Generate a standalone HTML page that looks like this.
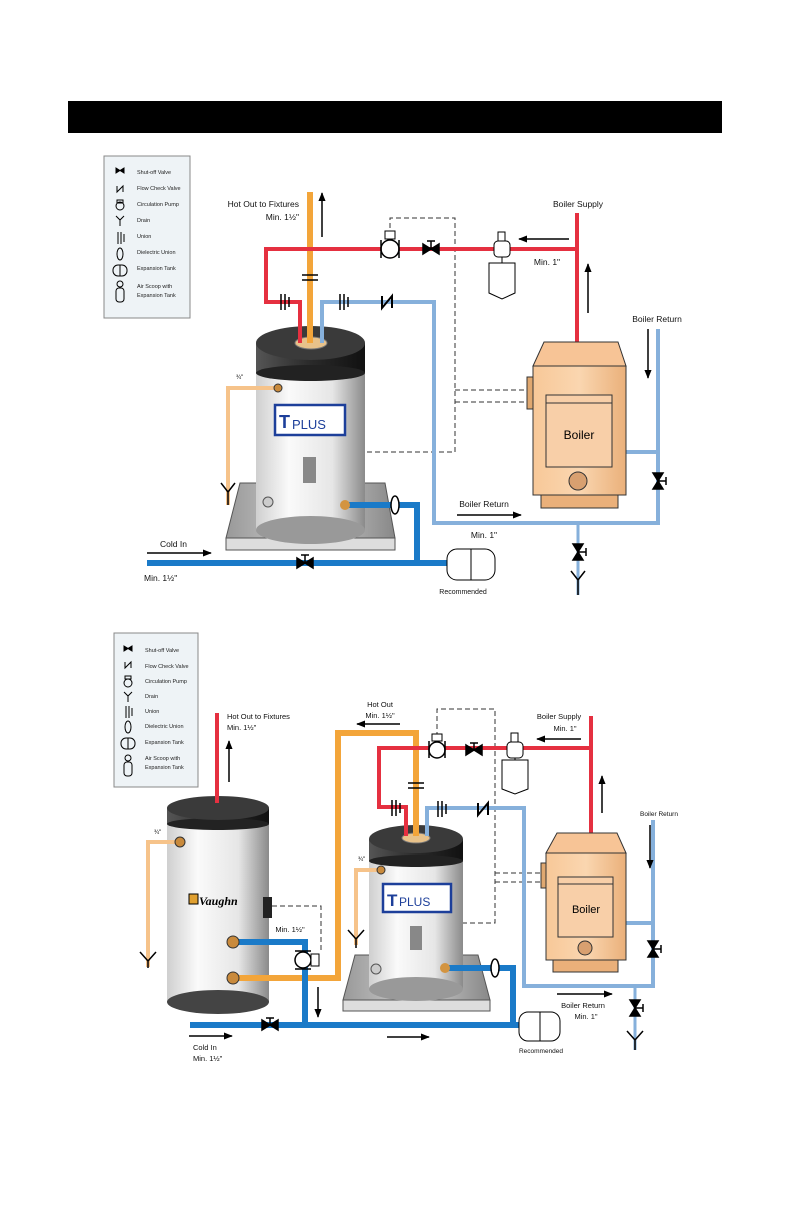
<!DOCTYPE html>
<html><head><meta charset="utf-8"><style>
html,body{margin:0;padding:0;background:#fff;}
svg{display:block;font-family:"Liberation Sans",sans-serif;}
</style></head><body>
<svg width="792" height="1224" viewBox="0 0 792 1224" xmlns="http://www.w3.org/2000/svg">
<defs>
<linearGradient id="tk" x1="0" x2="1"><stop offset="0" stop-color="#cfcfcf"/><stop offset="0.3" stop-color="#fafafa"/><stop offset="0.7" stop-color="#e6e6e6"/><stop offset="1" stop-color="#8a8a8a"/></linearGradient>
<linearGradient id="tp" x1="0" x2="1"><stop offset="0" stop-color="#555"/><stop offset="0.5" stop-color="#2a2a2a"/><stop offset="1" stop-color="#111"/></linearGradient>
<linearGradient id="bl" x1="0" x2="1"><stop offset="0" stop-color="#f8c898"/><stop offset="0.5" stop-color="#fad6b0"/><stop offset="1" stop-color="#eab07a"/></linearGradient>
<linearGradient id="tr" x1="0" x2="1"><stop offset="0" stop-color="#999"/><stop offset="0.5" stop-color="#d0d0d0"/><stop offset="1" stop-color="#888"/></linearGradient>
<marker id="ah" viewBox="0 0 10 10" refX="9" refY="5" markerWidth="6" markerHeight="6" orient="auto"><path d="M0,1 L10,5 L0,9 z" fill="#000"/></marker>
</defs>
<rect x="68" y="101" width="654" height="32" fill="#000"/>

<!-- ============ TOP DIAGRAM ============ -->
<rect x="104" y="156" width="86" height="162" fill="#eef3f6" stroke="#888"/>
<g font-size="5.5" fill="#222">
<text x="137" y="174">Shut-off Valve</text><text x="137" y="190">Flow Check Valve</text>
<text x="137" y="206">Circulation Pump</text><text x="137" y="222">Drain</text>
<text x="137" y="238">Union</text><text x="137" y="254">Dielectric Union</text>
<text x="137" y="270">Expansion Tank</text><text x="137" y="288">Air Scoop with</text><text x="137" y="297">Expansion Tank</text>
</g>
<g stroke="#000" fill="none" stroke-width="1">
<path d="M116,168 l8,5 l0,-5 l-8,5 z" fill="#000"/>
<path d="M117,186 l0,6 l6,-6 l0,6"/>
<circle cx="120" cy="206" r="4"/><rect x="117" y="200" width="6" height="3"/>
<path d="M116,216 l4,4 l4,-4 M120,220 v6"/>
<path d="M118,232 v12 M121,232 v12 M124,234 v8"/>
<ellipse cx="120" cy="254" rx="3" ry="6"/>
<rect x="113" y="265" width="14" height="11" rx="5"/><path d="M120,265 v11"/>
<rect x="116" y="288" width="8" height="14" rx="3"/><circle cx="120" cy="284" r="3"/>
</g>

<g stroke="#333" stroke-width="1" stroke-dasharray="5,3" fill="none">
<path d="M390,228 V218 H455 V452 H311"/>
<path d="M455,390 H527"/><path d="M455,402 H527"/>
</g>

<path d="M240,483 H385 L395,538 H226 Z" fill="url(#tr)" stroke="#555"/>
<rect x="226" y="538" width="169" height="12" fill="#ddd" stroke="#555"/>
<rect x="256" y="343" width="109" height="187" fill="url(#tk)"/>
<ellipse cx="310.5" cy="530" rx="54.5" ry="14" fill="#999"/>
<rect x="256" y="343" width="109" height="30" fill="url(#tp)"/>
<ellipse cx="310.5" cy="373" rx="54.5" ry="8" fill="#222"/>
<ellipse cx="310.5" cy="343" rx="54.5" ry="17" fill="#3a3a3a"/>
<ellipse cx="311" cy="343" rx="16" ry="6" fill="#e8c28a" stroke="#777"/>
<rect x="275" y="405" width="70" height="30" fill="#fff" stroke="#1d3f9a" stroke-width="2.5"/>
<text x="279" y="428" font-size="18" font-weight="bold" fill="#1d3f9a">T</text>
<text x="292" y="429" font-size="13" fill="#1d3f9a">PLUS</text>
<rect x="303" y="457" width="13" height="26" fill="#888"/>
<circle cx="268" cy="502" r="5" fill="#ccc" stroke="#555"/>
<path d="M276,388 H228 V505" stroke="#f6c38a" stroke-width="4" fill="none"/>
<circle cx="278" cy="388" r="4" fill="#c98a3c" stroke="#333"/>
<path d="M221,483 L228,492 L235,483 M228,492 V505" stroke="#000" stroke-width="1.5" fill="none"/>
<text x="236" y="379" font-size="6">¾"</text>

<path d="M310,192 V343" stroke="#f3a53a" stroke-width="6" fill="none"/>
<path d="M300,343 V302 H266 V249 H577" stroke="#e53040" stroke-width="4" fill="none"/>
<path d="M577,213 V353" stroke="#e53040" stroke-width="4" fill="none"/>
<ellipse cx="577" cy="353" rx="8" ry="3" fill="#000"/>
<path d="M322,343 V302 H434 V523 H658 V329" stroke="#86b0db" stroke-width="4" fill="none"/>
<path d="M626,452 H658" stroke="#86b0db" stroke-width="4"/>
<path d="M578,523 V595" stroke="#86b0db" stroke-width="3"/>
<path d="M147,563 H447 M417,563 V505 H345" stroke="#1a7ac8" stroke-width="6" fill="none"/>
<circle cx="345" cy="505" r="5" fill="#d39440"/>

<g stroke="#000" stroke-width="1.5" fill="none">
<path d="M281,294 v16 M285,294 v16 M289,297 v10"/>
<path d="M340,294 v16 M344,294 v16 M348,297 v10"/>
<path d="M302,275 h16 M302,280 h16"/>
<path d="M382,296 v12 l10,-12 v12" stroke-width="2"/>
</g>
<ellipse cx="395" cy="505" rx="4" ry="9" fill="#fff" stroke="#000" stroke-width="1.5"/>
<circle cx="390" cy="249" r="9" fill="#fff" stroke="#000" stroke-width="1.5"/>
<rect x="385" y="231" width="10" height="8" fill="#fff" stroke="#000"/>
<path d="M381,240 v18 M399,240 v18" stroke="#000" stroke-width="1.5"/>
<path d="M423,244 l16,10 v-10 l-16,10 z M431,249 v-8 M427,241 h8" fill="#000" stroke="#000" stroke-width="1.5"/>
<path d="M297,558 l16,10 v-10 l-16,10 z M305,563 v-8 M301,555 h8" fill="#000" stroke="#000" stroke-width="1.5"/>
<path d="M653,473 l10,16 h-10 l10,-16 z M658,481 h8 M666,477 v8" fill="#000" stroke="#000" stroke-width="1.5"/>
<path d="M573,544 l10,16 h-10 l10,-16 z M578,552 h8 M586,548 v8" fill="#000" stroke="#000" stroke-width="1.5"/>
<path d="M571,571 L578,580 L585,571 M578,580 V595" stroke="#000" stroke-width="1.5" fill="none"/>
<path d="M502,257 v6" stroke="#000"/>
<path d="M489,263 h26 v30 l-13,6 l-13,-6 z" fill="#fff" stroke="#000"/>
<rect x="494" y="241" width="16" height="16" rx="4" fill="#fff" stroke="#000"/>
<rect x="498" y="232" width="7" height="9" fill="#fff" stroke="#000"/>
<rect x="447" y="549" width="48" height="31" rx="10" fill="#fff" stroke="#000"/>
<path d="M471,549 v31" stroke="#000"/>
<path d="M544,342 H618 L626,366 H533 Z" fill="#f7c496" stroke="#333"/>
<rect x="533" y="366" width="93" height="129" fill="url(#bl)" stroke="#333"/>
<rect x="541" y="495" width="77" height="13" fill="#eab07a" stroke="#333"/>
<rect x="546" y="395" width="66" height="72" fill="#f8cfa8" stroke="#333"/>
<path d="M546,403 h66" stroke="#333"/>
<circle cx="578" cy="481" r="9" fill="#d8a070" stroke="#333"/>
<rect x="527" y="377" width="6" height="32" fill="#e0a870" stroke="#333"/>
<text x="579" y="439" font-size="12" text-anchor="middle">Boiler</text>

<g stroke="#000" stroke-width="1.5" marker-end="url(#ah)">
<path d="M322,237 V193"/><path d="M569,239 H519"/><path d="M588,313 V264"/>
<path d="M648,329 V378"/><path d="M457,515 H521"/><path d="M147,553 H211"/>
</g>
<g font-size="8.5" fill="#111">
<text x="299" y="207" text-anchor="end">Hot Out to Fixtures</text>
<text x="299" y="220" text-anchor="end">Min. 1½"</text>
<text x="578" y="207" text-anchor="middle">Boiler Supply</text>
<text x="547" y="265" text-anchor="middle">Min. 1"</text>
<text x="657" y="322" text-anchor="middle">Boiler Return</text>
<text x="484" y="507" text-anchor="middle">Boiler Return</text>
<text x="484" y="538" text-anchor="middle">Min. 1"</text>
<text x="160" y="547">Cold In</text>
<text x="144" y="581">Min. 1½"</text>
<text x="463" y="594" text-anchor="middle" font-size="7">Recommended</text>
</g>

<!-- ============ BOTTOM DIAGRAM ============ -->
<rect x="114" y="633" width="84" height="154" fill="#eef3f6" stroke="#888"/>
<g font-size="5.5" fill="#222">
<text x="145" y="652">Shut-off Valve</text><text x="145" y="668">Flow Check Valve</text>
<text x="145" y="683">Circulation Pump</text><text x="145" y="698">Drain</text>
<text x="145" y="713">Union</text><text x="145" y="728">Dielectric Union</text>
<text x="145" y="744">Expansion Tank</text><text x="145" y="760">Air Scoop with</text><text x="145" y="769">Expansion Tank</text>
</g>
<g stroke="#000" fill="none" stroke-width="1">
<path d="M124,646 l8,5 l0,-5 l-8,5 z" fill="#000"/>
<path d="M125,662 l0,6 l6,-6 l0,6"/>
<circle cx="128" cy="683" r="4"/><rect x="125" y="676" width="6" height="3"/>
<path d="M124,692 l4,4 l4,-4 M128,696 v6"/>
<path d="M126,706 v12 M129,706 v12 M132,708 v8"/>
<ellipse cx="128" cy="727" rx="3" ry="6"/>
<rect x="121" y="738" width="14" height="11" rx="5"/><path d="M128,738 v11"/>
<rect x="124" y="762" width="8" height="14" rx="3"/><circle cx="128" cy="758" r="3"/>
</g>

<g stroke="#333" stroke-width="1" stroke-dasharray="5,3" fill="none">
<path d="M272,906 H321 V953"/>
<path d="M437,737 V709 H495 V923 H462"/>
<path d="M495,873 H541"/><path d="M495,882 H541"/>
</g>

<rect x="167" y="808" width="102" height="194" fill="url(#tk)"/>
<ellipse cx="218" cy="1002" rx="51" ry="12" fill="#444"/>
<rect x="167" y="808" width="102" height="16" fill="url(#tp)"/>
<ellipse cx="218" cy="824" rx="51" ry="6" fill="#222"/>
<ellipse cx="218" cy="808" rx="51" ry="12" fill="#3a3a3a"/>
<rect x="189" y="894" width="9" height="10" fill="#e0a030" stroke="#000"/>
<text x="199" y="905" font-size="12" font-style="italic" font-weight="bold" font-family="Liberation Serif,serif">Vaughn</text>
<rect x="263" y="897" width="9" height="21" fill="#222"/>
<path d="M355,955 H478 L490,1000 H343 Z" fill="url(#tr)" stroke="#555"/>
<rect x="343" y="1000" width="147" height="11" fill="#ddd" stroke="#555"/>
<rect x="369" y="839" width="94" height="150" fill="url(#tk)"/>
<ellipse cx="416" cy="989" rx="47" ry="12" fill="#999"/>
<rect x="369" y="839" width="94" height="22" fill="url(#tp)"/>
<ellipse cx="416" cy="861" rx="47" ry="6" fill="#222"/>
<ellipse cx="416" cy="839" rx="47" ry="14" fill="#3a3a3a"/>
<ellipse cx="416" cy="838" rx="14" ry="5" fill="#e8c28a" stroke="#777"/>
<rect x="383" y="884" width="68" height="28" fill="#fff" stroke="#1d3f9a" stroke-width="2.5"/>
<text x="387" y="906" font-size="17" font-weight="bold" fill="#1d3f9a">T</text>
<text x="399" y="906" font-size="12" fill="#1d3f9a">PLUS</text>
<rect x="410" y="926" width="12" height="24" fill="#888"/>
<circle cx="376" cy="969" r="5" fill="#ccc" stroke="#555"/>

<path d="M180,842 H148 V967" stroke="#f6c38a" stroke-width="4" fill="none"/>
<circle cx="180" cy="842" r="5" fill="#c98a3c" stroke="#333"/>
<path d="M140,952 L148,961 L156,952 M148,961 V968" stroke="#000" stroke-width="1.5" fill="none"/>
<text x="154" y="834" font-size="6">¾"</text>
<path d="M381,870 H356 V945" stroke="#f6c38a" stroke-width="4" fill="none"/>
<circle cx="381" cy="870" r="4" fill="#c98a3c" stroke="#333"/>
<path d="M348,930 L356,939 L364,930 M356,939 V948" stroke="#000" stroke-width="1.5" fill="none"/>
<text x="358" y="861" font-size="6">¾"</text>

<path d="M217,713 V803" stroke="#e53040" stroke-width="4" fill="none"/>
<path d="M233,978 H338 V733 H416 V836" stroke="#f3a53a" stroke-width="6" fill="none"/>
<path d="M233,942 H305 V1025" stroke="#1a7ac8" stroke-width="6" fill="none"/>
<path d="M190,1025 H519 M445,968 H513 V1025" stroke="#1a7ac8" stroke-width="6" fill="none"/>
<circle cx="233" cy="942" r="6" fill="#c98a3c" stroke="#333"/><circle cx="233" cy="978" r="6" fill="#c98a3c" stroke="#333"/>
<circle cx="445" cy="968" r="5" fill="#d39440"/>
<path d="M406,836 V807 H379 V748 H591" stroke="#e53040" stroke-width="4" fill="none"/>
<path d="M591,716 V843" stroke="#e53040" stroke-width="4" fill="none"/>
<ellipse cx="585" cy="843" rx="8" ry="3" fill="#000"/>
<path d="M427,836 V808 H524 V986 H653 V820" stroke="#86b0db" stroke-width="4" fill="none"/>
<path d="M626,923 H653" stroke="#86b0db" stroke-width="4"/>
<path d="M635,986 V1050" stroke="#86b0db" stroke-width="3"/>

<g stroke="#000" stroke-width="1.5" fill="none">
<path d="M392,800 v16 M396,800 v16 M400,803 v10"/>
<path d="M438,801 v16 M442,801 v16 M446,804 v10"/>
<path d="M408,783 h16 M408,788 h16"/>
<path d="M478,803 v12 l10,-12 v12" stroke-width="2"/>
</g>
<ellipse cx="495" cy="968" rx="4" ry="9" fill="#fff" stroke="#000" stroke-width="1.5"/>
<circle cx="437" cy="750" r="8" fill="#fff" stroke="#000" stroke-width="1.5"/>
<rect x="432" y="734" width="10" height="7" fill="#fff" stroke="#000"/>
<path d="M429,741 v17 M445,741 v17" stroke="#000" stroke-width="1.5"/>
<circle cx="303" cy="960" r="8" fill="#fff" stroke="#000" stroke-width="1.5"/>
<rect x="311" y="954" width="8" height="12" fill="#fff" stroke="#000"/>
<path d="M295,951 h16 M295,969 h16" stroke="#000" stroke-width="1.5"/>
<path d="M466,745 l16,10 v-10 l-16,10 z M474,750 v-7 M470,743 h8" fill="#000" stroke="#000" stroke-width="1.5"/>
<path d="M262,1020 l16,10 v-10 l-16,10 z M270,1025 v-7 M266,1018 h8" fill="#000" stroke="#000" stroke-width="1.5"/>
<path d="M648,941 l10,16 h-10 l10,-16 z M653,949 h8 M661,945 v8" fill="#000" stroke="#000" stroke-width="1.5"/>
<path d="M630,1000 l10,16 h-10 l10,-16 z M635,1008 h8 M643,1004 v8" fill="#000" stroke="#000" stroke-width="1.5"/>
<path d="M627,1031 L635,1040 L643,1031 M635,1040 V1050" stroke="#000" stroke-width="1.5" fill="none"/>
<path d="M515,758 v3" stroke="#000"/>
<path d="M502,760 h26 v29 l-13,5 l-13,-5 z" fill="#fff" stroke="#000"/>
<rect x="507" y="742" width="16" height="16" rx="4" fill="#fff" stroke="#000"/>
<rect x="511" y="733" width="7" height="9" fill="#fff" stroke="#000"/>
<rect x="519" y="1012" width="41" height="29" rx="9" fill="#fff" stroke="#000"/>
<path d="M540,1012 v29" stroke="#000"/>
<path d="M557,833 H617 L626,853 H546 Z" fill="#f7c496" stroke="#333"/>
<rect x="546" y="853" width="80" height="107" fill="url(#bl)" stroke="#333"/>
<rect x="553" y="960" width="65" height="12" fill="#eab07a" stroke="#333"/>
<rect x="558" y="877" width="55" height="60" fill="#f8cfa8" stroke="#333"/>
<path d="M558,884 h55" stroke="#333"/>
<circle cx="585" cy="948" r="7" fill="#d8a070" stroke="#333"/>
<rect x="541" y="863" width="5" height="25" fill="#e0a870" stroke="#333"/>
<text x="586" y="913" font-size="11" text-anchor="middle">Boiler</text>

<g stroke="#000" stroke-width="1.5" marker-end="url(#ah)">
<path d="M229,782 V741"/><path d="M400,724 H357"/><path d="M581,739 H537"/>
<path d="M602,813 V776"/><path d="M650,825 V868"/><path d="M318,987 V1017"/>
<path d="M557,994 H612"/><path d="M189,1036 H232"/><path d="M387,1037 H429"/>
</g>
<g font-size="7.5" fill="#111">
<text x="227" y="719">Hot Out to Fixtures</text>
<text x="227" y="730">Min. 1½"</text>
<text x="380" y="707" text-anchor="middle">Hot Out</text>
<text x="380" y="718" text-anchor="middle">Min. 1½"</text>
<text x="559" y="719" text-anchor="middle">Boiler Supply</text>
<text x="565" y="731" text-anchor="middle">Min. 1"</text>
<text x="659" y="816" text-anchor="middle" font-size="6.5">Boiler Return</text>
<text x="290" y="932" text-anchor="middle">Min. 1½"</text>
<text x="583" y="1008" text-anchor="middle">Boiler Return</text>
<text x="586" y="1019" text-anchor="middle">Min. 1"</text>
<text x="193" y="1050">Cold In</text>
<text x="193" y="1061">Min. 1½"</text>
<text x="541" y="1053" text-anchor="middle" font-size="6.5">Recommended</text>
</g>
</svg>
</body></html>
